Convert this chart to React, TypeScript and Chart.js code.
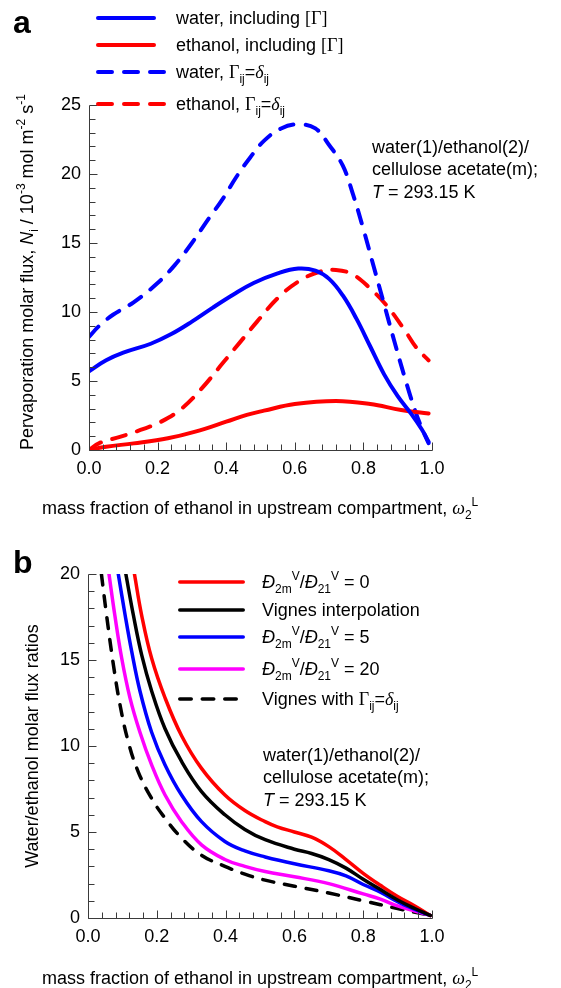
import { useEffect, useRef } from "react";
import { Chart, registerables } from "chart.js";

Chart.register(...registerables);

const SANS = '"Liberation Sans", Arial, sans-serif';
const SERIF = '"Liberation Serif", "Times New Roman", serif';
const AXIS = "#3a3a3a";

// ---------- Panel a data (flux, 10^-3 mol m^-2 s^-1) ----------
const xWaterGamma = [0, 0.05, 0.1, 0.18, 0.24, 0.3, 0.36, 0.42, 0.48, 0.55, 0.61, 0.66, 0.7, 0.74, 0.78, 0.82, 0.86, 0.9, 0.94, 0.97, 0.99];
const yWaterGamma = [5.7, 6.5, 7.05, 7.7, 8.4, 9.3, 10.3, 11.25, 12.1, 12.8, 13.15, 13.0, 12.4, 11.2, 9.5, 7.5, 5.5, 3.9, 2.6, 1.5, 0.6];

const xEthanolGamma = [0, 0.05, 0.13, 0.23, 0.31, 0.4, 0.46, 0.51, 0.6, 0.72, 0.82, 0.91, 0.99];
const yEthanolGamma = [0, 0.24, 0.48, 0.85, 1.33, 2.05, 2.55, 2.85, 3.33, 3.55, 3.33, 2.9, 2.65];

const xWaterDelta = [0, 0.03, 0.07, 0.13, 0.2, 0.25, 0.3, 0.35, 0.39, 0.43, 0.47, 0.51, 0.56, 0.61, 0.66, 0.7, 0.74, 0.77, 0.8, 0.83, 0.86, 0.89, 0.92, 0.95, 0.97, 0.99];
const yWaterDelta = [8.2, 9.0, 9.8, 10.7, 12.1, 13.4, 15.0, 16.8, 18.2, 19.8, 21.2, 22.4, 23.3, 23.6, 23.3, 22.1, 20.6, 18.5, 16.0, 13.3, 10.6, 7.9, 5.3, 2.9, 1.6, 0.5];

const xEthanolDelta = [0, 0.03, 0.09, 0.15, 0.21, 0.27, 0.33, 0.39, 0.44, 0.49, 0.55, 0.61, 0.67, 0.72, 0.77, 0.82, 0.87, 0.92, 0.955, 0.99];
const yEthanolDelta = [0, 0.5, 0.95, 1.45, 2.05, 3.0, 4.5, 6.3, 7.8, 9.3, 11.0, 12.2, 12.9, 13.05, 12.7, 11.7, 10.4, 8.7, 7.4, 6.5];

// ---------- Panel b data (water/ethanol flux ratios) ----------
const xRatio0 = [0.135, 0.156, 0.185, 0.224, 0.272, 0.33, 0.398, 0.456, 0.515, 0.55, 0.6, 0.65, 0.7, 0.75, 0.8, 0.85, 0.9, 0.95, 0.995];
const yRatio0 = [20, 17.6, 15.1, 12.8, 10.6, 8.7, 7.15, 6.25, 5.6, 5.3, 5.0, 4.7, 4.15, 3.4, 2.6, 1.9, 1.25, 0.7, 0.15];

const xVignes = [0.11, 0.132, 0.156, 0.185, 0.224, 0.272, 0.33, 0.398, 0.456, 0.515, 0.6, 0.65, 0.7, 0.75, 0.8, 0.85, 0.9, 0.95, 0.995];
const yVignes = [20, 17.6, 15.3, 13.2, 11.0, 9.1, 7.35, 6.0, 5.15, 4.55, 4.0, 3.75, 3.4, 2.9, 2.25, 1.65, 1.05, 0.55, 0.15];

const xRatio5 = [0.088, 0.108, 0.127, 0.151, 0.185, 0.224, 0.272, 0.33, 0.398, 0.456, 0.515, 0.6, 0.7, 0.75, 0.8, 0.85, 0.9, 0.95, 0.995];
const yRatio5 = [20, 17.6, 15.5, 13.2, 10.8, 8.9, 7.15, 5.6, 4.45, 3.9, 3.55, 3.15, 2.75, 2.45, 1.95, 1.5, 0.95, 0.5, 0.15];

const xRatio20 = [0.061, 0.078, 0.098, 0.122, 0.151, 0.185, 0.224, 0.272, 0.33, 0.398, 0.456, 0.515, 0.6, 0.7, 0.8, 0.85, 0.9, 0.95, 0.995];
const yRatio20 = [20, 17.6, 15.1, 12.8, 10.8, 8.9, 7.15, 5.6, 4.25, 3.4, 3.0, 2.7, 2.4, 2.0, 1.4, 1.1, 0.7, 0.4, 0.15];

const xVignesDelta = [0.039, 0.054, 0.074, 0.093, 0.117, 0.146, 0.185, 0.224, 0.272, 0.33, 0.398, 0.456, 0.515, 0.6, 0.7, 0.8, 0.9, 0.995];
const yVignesDelta = [20, 17.6, 14.7, 12.4, 10.25, 8.5, 6.95, 5.8, 4.65, 3.65, 3.0, 2.55, 2.2, 1.85, 1.45, 1.0, 0.55, 0.15];

// ---------- Axes ----------
const xTickStep = 0.2;
const xMinorStep = 0.04;
const yTickStepA = 5;
const yTickStepB = 5;
const yMaxA = 25;
const yMaxB = 20;

type Seg = { t: string; it?: boolean; serif?: boolean; sub?: boolean; sup?: boolean; bold?: boolean };

function drawRich(ctx: CanvasRenderingContext2D, x: number, y: number, segs: Seg[], size: number, align = "left") {
  const parts = segs.map((s) => {
    const sz = s.sub || s.sup ? Math.round(size * 0.66) : size;
    const font = `${s.it ? "italic " : ""}${s.bold ? "bold " : ""}${sz}px ${s.serif ? SERIF : SANS}`;
    ctx.font = font;
    return { ...s, font, w: ctx.measureText(s.t).width, dy: s.sub ? size * 0.3 : s.sup ? -size * 0.45 : 0 };
  });
  const total = parts.reduce((a, p) => a + p.w, 0);
  let cx = align === "center" ? x - total / 2 : x;
  ctx.textAlign = "left";
  ctx.textBaseline = "alphabetic";
  ctx.fillStyle = "#000";
  for (const p of parts) {
    ctx.font = p.font;
    ctx.fillText(p.t, cx, y + p.dy);
    cx += p.w;
  }
}

type LegendItem = { color: string; dash: boolean; y: number; segs: Seg[] };

type Decor = {
  yMax: number;
  yMinor: number;
  lineWidth: number;
  legendX0: number;
  legendX1: number;
  legendTextX: number;
  dashSeg: number;
  dashGap: number;
  legend: LegendItem[];
  noteX: number;
  noteY: number[];
  yTitle: Seg[];
  yTitleX: number;
  yTitleY: number;
  xTitleX: number;
  xTitleY: number;
  panel: string;
  panelY: number;
};

const xTitleSegs: Seg[] = [
  { t: "mass fraction of ethanol in upstream compartment, " },
  { t: "ω", it: true, serif: true },
  { t: "2", sub: true },
  { t: "L", sup: true },
];

const noteLines: Seg[][] = [
  [{ t: "water(1)/ethanol(2)/" }],
  [{ t: "cellulose acetate(m);" }],
  [{ t: "T", it: true }, { t: " = 293.15 K" }],
];

function makeDecor(d: Decor) {
  return {
    id: "decor" + d.panel,
    afterDraw(chart: any) {
      const ctx: CanvasRenderingContext2D = chart.ctx;
      const xs = chart.scales.x;
      const ys = chart.scales.y;
      const L = Math.round(xs.getPixelForValue(0)) + 0.5;
      const R = Math.round(xs.getPixelForValue(1)) + 0.5;
      const B = Math.round(ys.getPixelForValue(0)) + 0.5;
      const T = Math.round(ys.getPixelForValue(d.yMax)) + 0.5;
      ctx.save();
      ctx.strokeStyle = AXIS;
      ctx.lineWidth = 1;
      ctx.setLineDash([]);
      ctx.beginPath();
      ctx.moveTo(L, T);
      ctx.lineTo(L, B);
      ctx.lineTo(R, B);
      ctx.stroke();
      ctx.beginPath();
      const nx = Math.round(1 / xMinorStep);
      for (let i = 0; i <= nx; i++) {
        const v = i * xMinorStep;
        const px = Math.round(xs.getPixelForValue(v)) + 0.5;
        const major = i % Math.round(xTickStep / xMinorStep) === 0;
        ctx.moveTo(px, B);
        ctx.lineTo(px, B - (major ? 8 : 6));
      }
      for (let v = 0; v <= d.yMax; v += d.yMinor) {
        const py = Math.round(ys.getPixelForValue(v)) + 0.5;
        const major = v % 5 === 0;
        ctx.moveTo(L, py);
        ctx.lineTo(L + (major ? 8 : 6), py);
      }
      ctx.stroke();

      for (const it of d.legend) {
        ctx.strokeStyle = it.color;
        ctx.lineWidth = d.lineWidth;
        ctx.lineCap = "round";
        if (it.dash) {
          const inner = d.dashSeg - d.lineWidth;
          const gap = d.dashGap + d.lineWidth;
          ctx.setLineDash([inner, gap]);
          const len = 3 * d.dashSeg + 2 * d.dashGap - d.lineWidth;
          ctx.beginPath();
          ctx.moveTo(d.legendX0 + d.lineWidth / 2, it.y);
          ctx.lineTo(d.legendX0 + d.lineWidth / 2 + len, it.y);
          ctx.stroke();
          ctx.setLineDash([]);
        } else {
          ctx.beginPath();
          ctx.moveTo(d.legendX0 + d.lineWidth / 2, it.y);
          ctx.lineTo(d.legendX1 - d.lineWidth / 2, it.y);
          ctx.stroke();
        }
        drawRich(ctx, d.legendTextX, it.y + 6, it.segs, 18);
      }

      noteLines.forEach((segs, i) => drawRich(ctx, d.noteX, d.noteY[i], segs, 18));

      ctx.save();
      ctx.translate(d.yTitleX, d.yTitleY);
      ctx.rotate(-Math.PI / 2);
      drawRich(ctx, 0, 0, d.yTitle, 18, "center");
      ctx.restore();

      drawRich(ctx, d.xTitleX, d.xTitleY, xTitleSegs, 18);

      drawRich(ctx, 13, d.panelY, [{ t: d.panel, bold: true }], 32);
      ctx.restore();
    },
  };
}

function series(xv: number[], yv: number[]) {
  return xv.map((x, i) => ({ x, y: yv[i] }));
}

function lineDs(label: string, xv: number[], yv: number[], color: string, width: number, dash: number[] | null) {
  return {
    label,
    data: series(xv, yv),
    borderColor: color,
    backgroundColor: color,
    borderWidth: width,
    borderDash: dash ?? [],
    borderCapStyle: "round" as const,
    borderJoinStyle: "round" as const,
    pointRadius: 0,
    tension: 0.4,
    fill: false,
  };
}

function baseOptions(yMax: number, yStep: number, padTop: number, yWidth: number) {
  const tickFont = { family: SANS, size: 18 };
  return {
    responsive: false,
    animation: false as const,
    events: [],
    layout: { padding: { left: 0, right: 129, top: padTop, bottom: 0 } },
    plugins: { legend: { display: false }, tooltip: { enabled: false }, title: { display: false } },
    scales: {
      x: {
        type: "linear" as const,
        min: 0,
        max: 1,
        grid: { display: false, drawTicks: false },
        border: { display: false },
        ticks: {
          stepSize: xTickStep,
          callback: (v: any) => Number(v).toFixed(1),
          font: tickFont,
          color: "#000",
          padding: 8,
          maxRotation: 0,
          autoSkip: false,
        },
        afterFit: (s: any) => {
          s.height = 70;
        },
      },
      y: {
        type: "linear" as const,
        min: 0,
        max: yMax,
        grid: { display: false, drawTicks: false },
        border: { display: false },
        ticks: { stepSize: yStep, font: tickFont, color: "#000", padding: 8 },
        afterFit: (s: any) => {
          s.width = yWidth;
        },
      },
    },
  };
}

export default function App() {
  const refA = useRef<HTMLCanvasElement>(null);
  const refB = useRef<HTMLCanvasElement>(null);

  useEffect(() => {
    const dashA = [14, 12];
    const dashB = [11, 11];
    const deltaSegs = (name: string): Seg[] => [
      { t: name },
      { t: "Γ", serif: true },
      { t: "ij", sub: true },
      { t: "=" },
      { t: "δ", it: true, serif: true },
      { t: "ij", sub: true },
    ];
    const decorA = makeDecor({
      yMax: yMaxA,
      yMinor: 1,
      lineWidth: 4,
      legendX0: 96,
      legendX1: 156,
      legendTextX: 176,
      dashSeg: 18,
      dashGap: 8,
      legend: [
        { color: "#0000ff", dash: false, y: 18, segs: [{ t: "water, including " }, { t: "[Γ]", serif: true }] },
        { color: "#ff0000", dash: false, y: 45, segs: [{ t: "ethanol, including " }, { t: "[Γ]", serif: true }] },
        { color: "#0000ff", dash: true, y: 72, segs: deltaSegs("water, ") },
        { color: "#ff0000", dash: true, y: 104, segs: deltaSegs("ethanol, ") },
      ],
      noteX: 372,
      noteY: [153, 175, 198],
      yTitle: [
        { t: "Pervaporation molar flux, " },
        { t: "N", it: true },
        { t: "i", sub: true },
        { t: " / 10" },
        { t: "-3", sup: true },
        { t: " mol m" },
        { t: "-2", sup: true },
        { t: " s" },
        { t: "-1", sup: true },
      ],
      yTitleX: 33,
      yTitleY: 272,
      xTitleX: 42,
      xTitleY: 514,
      panel: "a",
      panelY: 33,
    });

    const dSym: Seg[] = [{ t: "Đ", it: true }, { t: "2m", sub: true }, { t: "V", sup: true }, { t: "/" }, { t: "Đ", it: true }, { t: "21", sub: true }, { t: "V", sup: true }];
    const decorB = makeDecor({
      yMax: yMaxB,
      yMinor: 1,
      lineWidth: 3.5,
      legendX0: 178,
      legendX1: 245,
      legendTextX: 262,
      dashSeg: 15,
      dashGap: 7.5,
      legend: [
        { color: "#ff0000", dash: false, y: 62, segs: [...dSym, { t: " = 0" }] },
        { color: "#000000", dash: false, y: 90, segs: [{ t: "Vignes interpolation" }] },
        { color: "#0000ff", dash: false, y: 117, segs: [...dSym, { t: " = 5" }] },
        { color: "#ff00ff", dash: false, y: 149, segs: [...dSym, { t: " = 20" }] },
        { color: "#000000", dash: true, y: 179, segs: deltaSegs("Vignes with ") },
      ],
      noteX: 263,
      noteY: [241, 263, 286],
      yTitle: [{ t: "Water/ethanol molar flux ratios" }],
      yTitleX: 38,
      yTitleY: 226,
      xTitleX: 42,
      xTitleY: 464,
      panel: "b",
      panelY: 53,
    });

    const chartA = new Chart(refA.current!, {
      type: "line",
      data: {
        datasets: [
          lineDs("water, including [Γ]", xWaterGamma, yWaterGamma, "#0000ff", 4, null),
          lineDs("ethanol, including [Γ]", xEthanolGamma, yEthanolGamma, "#ff0000", 4, null),
          lineDs("water, Γij=δij", xWaterDelta, yWaterDelta, "#0000ff", 4, dashA),
          lineDs("ethanol, Γij=δij", xEthanolDelta, yEthanolDelta, "#ff0000", 4, dashA),
        ],
      },
      options: baseOptions(yMaxA, yTickStepA, 105, 89) as any,
      plugins: [decorA],
    });

    const chartB = new Chart(refB.current!, {
      type: "line",
      data: {
        datasets: [
          lineDs("Vignes interpolation", xVignes, yVignes, "#000000", 3.5, null),
          lineDs("Đ2m/Đ21 = 0", xRatio0, yRatio0, "#ff0000", 3.5, null),
          lineDs("Đ2m/Đ21 = 5", xRatio5, yRatio5, "#0000ff", 3.5, null),
          lineDs("Đ2m/Đ21 = 20", xRatio20, yRatio20, "#ff00ff", 3.5, null),
          lineDs("Vignes with Γij=δij", xVignesDelta, yVignesDelta, "#000000", 3.5, dashB),
        ],
      },
      options: baseOptions(yMaxB, yTickStepB, 54, 88) as any,
      plugins: [decorB],
    });

    return () => {
      chartA.destroy();
      chartB.destroy();
    };
  }, []);

  return (
    <div style={{ position: "absolute", left: 0, top: 0, width: 561, height: 988, background: "#fff", overflow: "hidden" }}>
      <canvas ref={refA} width={561} height={520} style={{ position: "absolute", left: 0, top: 0, width: 561, height: 520 }} />
      <canvas ref={refB} width={561} height={468} style={{ position: "absolute", left: 0, top: 520, width: 561, height: 468 }} />
    </div>
  );
}
